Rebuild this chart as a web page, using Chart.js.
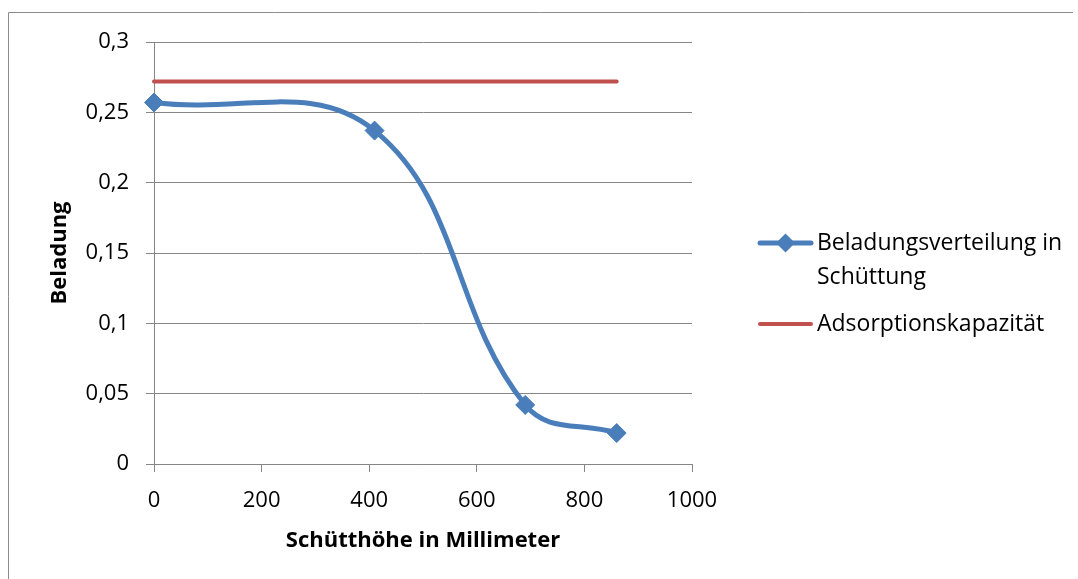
<!DOCTYPE html>
<html>
<head>
<meta charset="utf-8">
<script src="https://cdn.jsdelivr.net/npm/chart.js@4"></script>
<style>
    body { margin: 0; background: #fff; }
    canvas { display: block; }
</style>
</head>
<body>
<canvas id="myChart" width="1078" height="579"></canvas>
<script>
    // Werte
    const schuetthoehe = [0, 410, 690, 860];
    const beladung = [0.257, 0.237, 0.042, 0.022];
    const kapazitaet = [0.272, 0.272, 0.272, 0.272];
    const serien = ['Beladungsverteilung in Schüttung', 'Adsorptionskapazität'];
    const xAchse = {min: 0, max: 1000, step: 200, titel: 'Schütthöhe in Millimeter'};
    const yAchse = {min: 0, max: 0.3, step: 0.05, titel: 'Beladung'};

    const blau = '#4A7EBB';
    const rot = '#C0504D';
    const grau = '#868686';
    const schrift = "'Open Sans'";

    function punkte(xs, ys) {
        return xs.map((x, i) => ({x: x, y: ys[i]}));
    }

    const rahmen = {
        id: 'rahmen',
        beforeDraw(chart) {
            const ctx = chart.ctx;
            ctx.save();
            ctx.fillStyle = '#fff';
            ctx.fillRect(0, 0, chart.width, chart.height);
            ctx.strokeStyle = '#8c8c8c';
            ctx.lineWidth = 1;
            ctx.beginPath();
            ctx.moveTo(8.5, chart.height + 5);
            ctx.lineTo(8.5, 12.5);
            ctx.lineTo(1073, 12.5);
            ctx.stroke();
            ctx.restore();
        }
    };

    const legende = {
        id: 'legende',
        afterDraw(chart) {
            const ctx = chart.ctx;
            ctx.save();
            ctx.font = '23px ' + schrift;
            ctx.textBaseline = 'middle';
            ctx.textAlign = 'left';
            let y = 243;
            chart.data.datasets.forEach((ds) => {
                ctx.strokeStyle = ds.borderColor;
                ctx.lineWidth = ds.borderWidth;
                ctx.lineCap = 'round';
                ctx.beginPath();
                ctx.moveTo(760, y);
                ctx.lineTo(811, y);
                ctx.stroke();
                if (ds.pointRadius > 0) {
                    let r = ds.pointRadius;
                    ctx.fillStyle = ds.backgroundColor;
                    ctx.beginPath();
                    ctx.moveTo(785.5 - r, y);
                    ctx.lineTo(785.5, y - r);
                    ctx.lineTo(785.5 + r, y);
                    ctx.lineTo(785.5, y + r);
                    ctx.closePath();
                    ctx.fill();
                }
                // Zeilenumbruch wie in Excel
                let zeilen = [];
                let zeile = '';
                ds.label.split(' ').forEach((wort) => {
                    let test = zeile ? zeile + ' ' + wort : wort;
                    if (ctx.measureText(test).width > 250 && zeile) {
                        zeilen.push(zeile);
                        zeile = wort;
                    } else {
                        zeile = test;
                    }
                });
                zeilen.push(zeile);
                ctx.fillStyle = '#000';
                zeilen.forEach((z, i) => {
                    ctx.fillText(z, 817, y + i * 34);
                });
                y += (zeilen.length - 1) * 34 + 47;
            });
            ctx.restore();
        }
    };

    var ctx = document.getElementById('myChart').getContext('2d');
    var myChart = new Chart(ctx, {
        type: 'scatter',
        data: {
            datasets: [{
                label: serien[0],
                data: punkte(schuetthoehe, beladung),
                showLine: true,
                clip: false,
                borderColor: blau,
                backgroundColor: blau,
                borderWidth: 5,
                tension: 0.4,
                pointStyle: 'rectRot',
                pointRadius: 9.5,
                pointHoverRadius: 9.5,
                pointBorderWidth: 1
            }, {
                label: serien[1],
                data: punkte(schuetthoehe, kapazitaet),
                showLine: true,
                clip: false,
                borderColor: rot,
                backgroundColor: rot,
                borderWidth: 4,
                borderCapStyle: 'round',
                pointRadius: 0,
                pointHoverRadius: 0
            }]
        },
        options: {
            responsive: false,
            animation: false,
            events: [],
            layout: {
                padding: {left: 9, top: 42, right: 386, bottom: 15}
            },
            plugins: {
                legend: {display: false},
                tooltip: {enabled: false}
            },
            scales: {
                x: {
                    type: 'linear',
                    min: xAchse.min,
                    max: xAchse.max,
                    afterFit: (s) => { s.height = 100; },
                    grid: {drawOnChartArea: false, drawTicks: true, tickLength: 8, color: grau},
                    border: {color: grau},
                    ticks: {
                        stepSize: xAchse.step,
                        padding: 16,
                        color: '#000',
                        font: {family: schrift, size: 22},
                        callback: (v) => String(v)
                    },
                    title: {
                        display: true,
                        text: xAchse.titel,
                        color: '#000',
                        padding: {top: 0, bottom: 10},
                        font: {family: schrift, size: 22, weight: 'bold'}
                    }
                },
                y: {
                    min: yAchse.min,
                    max: yAchse.max,
                    afterFit: (s) => { s.width = 145; },
                    grid: {drawTicks: true, tickLength: 8, color: grau},
                    border: {color: grau},
                    ticks: {
                        stepSize: yAchse.step,
                        padding: 17,
                        color: '#000',
                        font: {family: schrift, size: 22},
                        callback: (v) => (Math.round(v * 100) / 100).toString().replace('.', ',')
                    },
                    title: {
                        display: true,
                        text: yAchse.titel,
                        color: '#000',
                        padding: {top: 38, bottom: 0},
                        font: {family: schrift, size: 22, weight: 'bold'}
                    }
                }
            }
        },
        plugins: [rahmen, legende]
    });
</script>
</body>
</html>
